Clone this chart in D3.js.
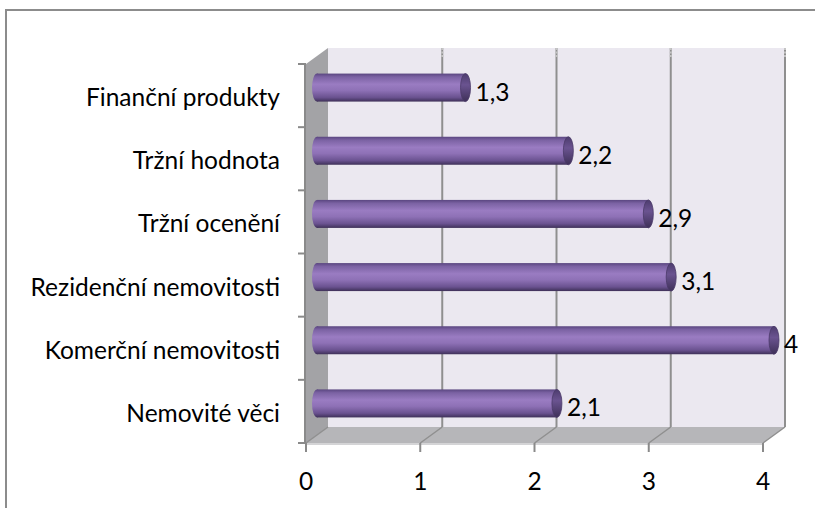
<!DOCTYPE html>
<html><head><meta charset="utf-8">
<script src="https://cdn.jsdelivr.net/npm/d3@7"></script>
<style>body{margin:0;background:#fff}svg{display:block}</style>
</head><body>
<svg id="c" width="815" height="508"></svg>
<script>
const categories = ["Finanční produkty","Tržní hodnota","Tržní ocenění","Rezidenční nemovitosti","Komerční nemovitosti","Nemovité věci"];
const values = [1.3, 2.2, 2.9, 3.1, 4, 2.1];
const valueLabels = ["1,3","2,2","2,9","3,1","4","2,1"];
const xTicks = [0,1,2,3,4];

(function(){
const svg = d3.select("#c");
const font = "Lato, 'Open Sans', sans-serif";
const fs = 24.5;
const DX = 22, DY = -16;
const x = d3.scaleLinear().domain([0,4]).range([306,763]);
const y = d3.scaleBand().domain(categories).range([64,443]);

svg.append("rect").attr("x",6).attr("y",10).attr("width",830).attr("height",520)
  .attr("fill","#fff").attr("stroke","#8c8c8c").attr("stroke-width",2);

const defs = svg.append("defs");
const g = defs.append("linearGradient").attr("id","cyl").attr("x1",0).attr("y1",0).attr("x2",0).attr("y2",1);
[[0,"#5a4680"],[0.12,"#7b62a3"],[0.38,"#9a7cc2"],[0.6,"#8e71b6"],[0.85,"#6a5290"],[1,"#3e3058"]]
  .forEach(([o,c])=>g.append("stop").attr("offset",o).attr("stop-color",c));
const gc = defs.append("linearGradient").attr("id","cap").attr("x1",0).attr("y1",0).attr("x2",0).attr("y2",1);
[[0,"#4d3c6e"],[0.4,"#6a5390"],[1,"#3e3058"]]
  .forEach(([o,c])=>gc.append("stop").attr("offset",o).attr("stop-color",c));

const yTop = 64, yBot = 443;
svg.append("rect").attr("x",x(0)+DX).attr("y",yTop+DY).attr("width",x(4)-x(0)).attr("height",yBot-yTop)
  .attr("fill","#ebe8f0");
svg.append("path").attr("d",`M${x(0)},${yTop} L${x(0)+DX},${yTop+DY} L${x(0)+DX},${yBot+DY} L${x(0)},${yBot} Z`)
  .attr("fill","#a3a3a6");
svg.append("path").attr("d",`M${x(0)},${yBot} L${x(4)},${yBot} L${x(4)+DX},${yBot+DY} L${x(0)+DX},${yBot+DY} Z`)
  .attr("fill","#b6b6b9");
svg.append("line").attr("x1",x(0)).attr("x2",x(4)).attr("y1",yBot+1).attr("y2",yBot+1)
  .attr("stroke","#d4d4d6").attr("stroke-width",2);

xTicks.forEach(t=>{
  const xb = x(t)+DX;
  if (t>0) {
    svg.append("line").attr("x1",xb).attr("x2",xb).attr("y1",yTop+DY).attr("y2",yBot+DY)
      .attr("stroke","#8f8f8f").attr("stroke-width",2);
    svg.append("line").attr("x1",xb).attr("x2",xb).attr("y1",yTop+DY).attr("y2",yTop+DY+10)
      .attr("stroke","#c4c4c4").attr("stroke-width",2).attr("stroke-dasharray","2,1.5");
  }
  svg.append("line").attr("x1",x(t)).attr("y1",yBot).attr("x2",xb).attr("y2",yBot+DY)
    .attr("stroke","#8f8f8f").attr("stroke-width",1.5);
});
svg.append("line").attr("x1",x(0)-1).attr("x2",x(0)-1).attr("y1",yTop).attr("y2",yBot)
  .attr("stroke","#8a8a8a").attr("stroke-width",2);

const yTickPos = categories.map(c=>y(c)).concat([yBot]);
yTickPos.forEach(p=>svg.append("line").attr("x1",x(0)-8).attr("x2",x(0)).attr("y1",p).attr("y2",p)
  .attr("stroke","#8a8a8a").attr("stroke-width",2));
xTicks.forEach(t=>svg.append("line").attr("x1",x(t)).attr("x2",x(t)).attr("y1",yBot).attr("y2",yBot+9)
  .attr("stroke","#8a8a8a").attr("stroke-width",2));

const h = 28, rx = 5;
categories.forEach((c,i)=>{
  const cy = y(c)+y.bandwidth()/2 + DY/2;
  const x0 = x(0)+DX/2, x1 = x(values[i])+DX/2;
  const bg = svg.append("g");
  bg.append("ellipse").attr("cx",x0).attr("cy",cy).attr("rx",rx).attr("ry",h/2).attr("fill","url(#cyl)");
  bg.append("rect").attr("x",x0).attr("y",cy-h/2).attr("width",x1-x0).attr("height",h).attr("fill","url(#cyl)");
  bg.append("ellipse").attr("cx",x1).attr("cy",cy).attr("rx",rx).attr("ry",h/2).attr("fill","url(#cap)")
    .attr("stroke","#4a3a68").attr("stroke-width",0.8);
  svg.append("text").attr("x",x1+rx+5).attr("y",cy+13)
    .attr("font-family",font).attr("font-size",fs).attr("fill","#000").text(valueLabels[i]);
  svg.append("text").attr("x",280).attr("y",y(c)+y.bandwidth()/2+10.5)
    .attr("text-anchor","end").attr("font-family",font).attr("font-size",fs).attr("fill","#000").text(c);
});

xTicks.forEach(t=>svg.append("text").attr("x",x(t)).attr("y",490)
  .attr("text-anchor","middle").attr("font-family",font).attr("font-size",fs).attr("fill","#000").text(t));
})();
</script>
</body></html>
